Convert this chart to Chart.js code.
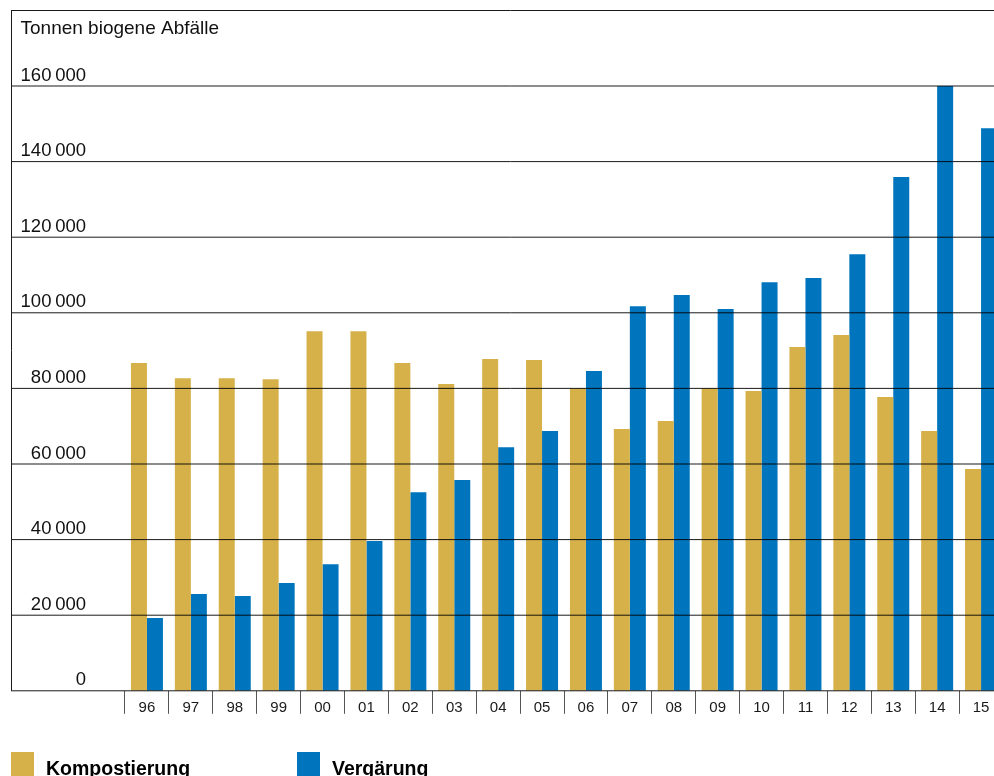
<!DOCTYPE html>
<html>
<head>
<meta charset="utf-8">
<title>Biogene Abfälle</title>
<script src="https://cdn.jsdelivr.net/npm/chart.js@4"></script>
<style>
  html, body { margin: 0; padding: 0; overflow: hidden; background: #fff; }
  canvas { display: block; }
</style>
</head>
<body>
<canvas id="chart" width="1010" height="776"></canvas>
<script>
const years = ['96', '97', '98', '99', '00', '01', '02', '03', '04', '05',
               '06', '07', '08', '09', '10', '11', '12', '13', '14', '15'];
const kompostierung = [86700, 82700, 82700, 82450, 95150, 95150, 86700, 81150, 87750, 87500,
                       80000, 69250, 71350, 80000, 79300, 90950, 94100, 77700, 68700, 58650];
const vergaerung = [19250, 25600, 25050, 28500, 33500, 39600, 52550, 55750, 64450, 68700,
                    84600, 101750, 104700, 101000, 108100, 109200, 115500, 135900, 160000, 148850];
const yTicks = [0, 20000, 40000, 60000, 80000, 100000, 120000, 140000, 160000];
const yTitle = 'Tonnen biogene Abfälle';

const FONT = "'Liberation Sans', Arial, Helvetica, sans-serif";
const GOLD = '#d6b14a';
const BLUE = '#0075bd';

function fmt(v) {
  return String(v).replace(/\B(?=(\d{3})+(?!\d))/g, '\u2009');
}

// rules, frame, value labels and legend drawn on top of the bars
const frame = {
  id: 'frame',
  afterDatasetsDraw(chart) {
    const { ctx, scales: { y } } = chart;
    const right = chart.width;
    ctx.save();

    ctx.strokeStyle = 'rgba(0,0,0,0.9)';
    ctx.lineWidth = 1;
    ctx.fillStyle = '#111';
    ctx.font = '18.5px ' + FONT;
    ctx.textAlign = 'right';
    ctx.textBaseline = 'alphabetic';
    yTicks.forEach(v => {
      const py = y.getPixelForValue(v);
      ctx.beginPath();
      ctx.moveTo(11, py);
      ctx.lineTo(right, py);
      ctx.stroke();
      ctx.fillText(fmt(v), 86, py - 5.5);
    });

    // outer frame: top and left edges
    ctx.strokeStyle = '#1a1a1a';
    ctx.beginPath();
    ctx.moveTo(11, 10.5);
    ctx.lineTo(right, 10.5);
    ctx.moveTo(11.5, 10);
    ctx.lineTo(11.5, y.getPixelForValue(0));
    ctx.stroke();

    ctx.textAlign = 'left';
    ctx.font = '19px ' + FONT;
    ctx.fillText(yTitle, 20.5, 34.3);

    // legend
    const items = [
      { x: 11, text: chart.data.datasets[0].label, color: chart.data.datasets[0].backgroundColor },
      { x: 297, text: chart.data.datasets[1].label, color: chart.data.datasets[1].backgroundColor }
    ];
    ctx.font = 'bold 19.5px ' + FONT;
    items.forEach(it => {
      ctx.fillStyle = it.color;
      ctx.fillRect(it.x, 752, 23, 30);
      ctx.fillStyle = '#000';
      ctx.fillText(it.text, it.x + 35, 775);
    });

    ctx.restore();
  }
};

new Chart(document.getElementById('chart'), {
  type: 'bar',
  data: {
    labels: years,
    datasets: [
      { label: 'Kompostierung', data: kompostierung, backgroundColor: GOLD, borderWidth: 0 },
      { label: 'Vergärung', data: vergaerung, backgroundColor: BLUE, borderWidth: 0 }
    ]
  },
  options: {
    responsive: false,
    animation: false,
    devicePixelRatio: 1,
    layout: { padding: { left: 125, right: 7, top: 86, bottom: 0 } },
    datasets: { bar: { categoryPercentage: 0.729, barPercentage: 1 } },
    plugins: {
      legend: { display: false },
      tooltip: { enabled: false }
    },
    scales: {
      x: {
        offset: true,
        border: { display: false },
        grid: {
          offset: true,
          drawOnChartArea: false,
          drawTicks: true,
          tickLength: 23,
          color: '#555',
          lineWidth: 1
        },
        ticks: {
          padding: -15,
          autoSkip: false,
          maxRotation: 0,
          color: '#1a1a1a',
          font: { family: FONT, size: 15 }
        },
        afterFit(scale) { scale.height = 85.2; }
      },
      y: {
        display: false,
        min: 0,
        max: 160000
      }
    }
  },
  plugins: [frame]
});
</script>
</body>
</html>
